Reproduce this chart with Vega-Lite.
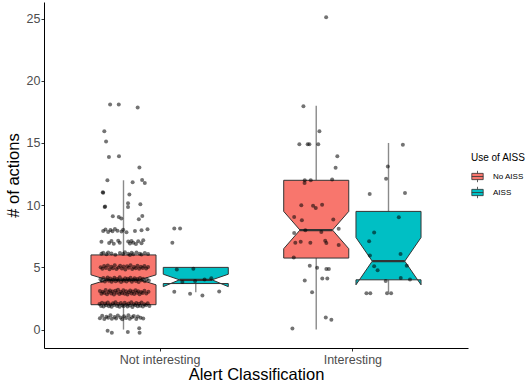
{
  "$schema": "https://vega.github.io/schema/vega-lite/v6.json",
  "width": 424,
  "height": 346,
  "autosize": {"type": "none"},
  "padding": {"left": 44, "top": 2, "right": 63, "bottom": 36},
  "background": "white",
  "config": {
    "font": "Liberation Sans",
    "view": {"stroke": null},
    "axis": {
      "grid": false,
      "domainColor": "#000000",
      "domainWidth": 1,
      "tickColor": "#333333",
      "tickSize": 3,
      "labelColor": "#4D4D4D",
      "labelFontSize": 12.5,
      "titleColor": "#000000",
      "titleFontSize": 16.5,
      "titleFontWeight": "normal"
    }
  },
  "datasets": {
    "boxes": [
      {"cls": "Not interesting", "aiss": "No AISS", "lower": 0, "q1": 2, "nlo": 3.6, "med": 4, "nhi": 4.4, "q3": 6, "upper": 12},
      {"cls": "Not interesting", "aiss": "AISS", "lower": 3, "q1": 3.7, "nlo": 3.45, "med": 4, "nhi": 4.45, "q3": 5, "upper": 5},
      {"cls": "Interesting", "aiss": "No AISS", "lower": 0, "q1": 5.75, "nlo": 6.5, "med": 8, "nhi": 9.5, "q3": 12, "upper": 18},
      {"cls": "Interesting", "aiss": "AISS", "lower": 3, "q1": 4, "nlo": 3.6, "med": 5.5, "nhi": 7.4, "q3": 9.5, "upper": 15}
    ],
    "pts": [
      {"x": 0.730, "y": -0.1}, {"x": 0.752, "y": -0.25}, {"x": 0.835, "y": -0.2}, {"x": 0.894, "y": 0.1}, {"x": 0.896, "y": -0.25},
      {"x": 0.690, "y": 0.92}, {"x": 0.702, "y": 1.12}, {"x": 0.713, "y": 0.85}, {"x": 0.724, "y": 1.04}, {"x": 0.733, "y": 0.95}, {"x": 0.745, "y": 1.15}, {"x": 0.752, "y": 0.88}, {"x": 0.766, "y": 1.02}, {"x": 0.774, "y": 0.9}, {"x": 0.783, "y": 1.13}, {"x": 0.797, "y": 0.97}, {"x": 0.806, "y": 0.84}, {"x": 0.815, "y": 1.08}, {"x": 0.826, "y": 0.93}, {"x": 0.838, "y": 1.16}, {"x": 0.845, "y": 0.87}, {"x": 0.857, "y": 1.0}, {"x": 0.866, "y": 1.1}, {"x": 0.879, "y": 0.86}, {"x": 0.887, "y": 1.05}, {"x": 0.901, "y": 0.95}, {"x": 0.915, "y": 0.9},
      {"x": 0.688, "y": 2.05}, {"x": 0.696, "y": 1.9}, {"x": 0.701, "y": 2.15}, {"x": 0.709, "y": 1.85}, {"x": 0.717, "y": 2.1}, {"x": 0.722, "y": 1.95}, {"x": 0.731, "y": 2.18}, {"x": 0.737, "y": 1.88}, {"x": 0.744, "y": 2.02}, {"x": 0.751, "y": 1.83}, {"x": 0.758, "y": 2.12}, {"x": 0.764, "y": 1.97}, {"x": 0.771, "y": 2.2}, {"x": 0.779, "y": 1.9}, {"x": 0.785, "y": 2.05}, {"x": 0.792, "y": 1.84}, {"x": 0.799, "y": 2.14}, {"x": 0.806, "y": 1.98}, {"x": 0.812, "y": 1.87}, {"x": 0.819, "y": 2.16}, {"x": 0.826, "y": 2.0}, {"x": 0.833, "y": 1.86}, {"x": 0.839, "y": 2.1}, {"x": 0.846, "y": 1.93}, {"x": 0.853, "y": 2.19}, {"x": 0.859, "y": 1.82}, {"x": 0.866, "y": 2.04}, {"x": 0.873, "y": 1.95}, {"x": 0.879, "y": 2.13}, {"x": 0.886, "y": 1.88}, {"x": 0.893, "y": 2.07}, {"x": 0.899, "y": 1.92}, {"x": 0.906, "y": 2.17}, {"x": 0.913, "y": 1.86}, {"x": 0.921, "y": 2.03}, {"x": 0.929, "y": 1.96}, {"x": 0.938, "y": 2.11}, {"x": 0.947, "y": 1.9},
      {"x": 0.690, "y": 3.1}, {"x": 0.698, "y": 2.88}, {"x": 0.705, "y": 3.05}, {"x": 0.713, "y": 2.95}, {"x": 0.720, "y": 3.18}, {"x": 0.727, "y": 2.84}, {"x": 0.735, "y": 3.02}, {"x": 0.742, "y": 3.15}, {"x": 0.749, "y": 2.9}, {"x": 0.756, "y": 3.07}, {"x": 0.763, "y": 2.83}, {"x": 0.770, "y": 3.12}, {"x": 0.777, "y": 2.97}, {"x": 0.784, "y": 3.2}, {"x": 0.791, "y": 2.86}, {"x": 0.798, "y": 3.04}, {"x": 0.805, "y": 2.93}, {"x": 0.812, "y": 3.16}, {"x": 0.819, "y": 2.89}, {"x": 0.826, "y": 3.08}, {"x": 0.833, "y": 2.82}, {"x": 0.840, "y": 3.0}, {"x": 0.847, "y": 3.14}, {"x": 0.854, "y": 2.91}, {"x": 0.861, "y": 3.06}, {"x": 0.868, "y": 2.87}, {"x": 0.875, "y": 3.17}, {"x": 0.882, "y": 2.96}, {"x": 0.889, "y": 3.09}, {"x": 0.896, "y": 2.85}, {"x": 0.904, "y": 3.03}, {"x": 0.912, "y": 2.94}, {"x": 0.921, "y": 3.13}, {"x": 0.931, "y": 2.9}, {"x": 0.942, "y": 3.05},
      {"x": 0.693, "y": 4.05}, {"x": 0.700, "y": 3.9}, {"x": 0.708, "y": 4.15}, {"x": 0.716, "y": 3.86}, {"x": 0.723, "y": 4.02}, {"x": 0.730, "y": 4.18}, {"x": 0.737, "y": 3.93}, {"x": 0.744, "y": 4.1}, {"x": 0.751, "y": 3.84}, {"x": 0.758, "y": 4.0}, {"x": 0.765, "y": 4.16}, {"x": 0.772, "y": 3.88}, {"x": 0.779, "y": 4.07}, {"x": 0.786, "y": 3.95}, {"x": 0.793, "y": 4.2}, {"x": 0.800, "y": 3.83}, {"x": 0.807, "y": 4.03}, {"x": 0.814, "y": 3.92}, {"x": 0.821, "y": 4.13}, {"x": 0.828, "y": 3.87}, {"x": 0.835, "y": 4.08}, {"x": 0.842, "y": 3.97}, {"x": 0.849, "y": 4.17}, {"x": 0.856, "y": 3.85}, {"x": 0.863, "y": 4.01}, {"x": 0.870, "y": 4.12}, {"x": 0.877, "y": 3.9}, {"x": 0.884, "y": 4.06}, {"x": 0.891, "y": 3.82}, {"x": 0.898, "y": 4.14}, {"x": 0.906, "y": 3.96}, {"x": 0.914, "y": 4.09}, {"x": 0.923, "y": 3.89}, {"x": 0.933, "y": 4.04}, {"x": 0.944, "y": 3.94},
      {"x": 0.694, "y": 5.02}, {"x": 0.703, "y": 4.88}, {"x": 0.712, "y": 5.12}, {"x": 0.721, "y": 4.95}, {"x": 0.731, "y": 5.15}, {"x": 0.740, "y": 4.85}, {"x": 0.749, "y": 5.05}, {"x": 0.758, "y": 4.92}, {"x": 0.767, "y": 5.17}, {"x": 0.776, "y": 4.87}, {"x": 0.786, "y": 5.0}, {"x": 0.795, "y": 5.13}, {"x": 0.804, "y": 4.9}, {"x": 0.813, "y": 5.08}, {"x": 0.822, "y": 4.83}, {"x": 0.831, "y": 5.1}, {"x": 0.840, "y": 4.97}, {"x": 0.849, "y": 5.18}, {"x": 0.858, "y": 4.86}, {"x": 0.867, "y": 5.04}, {"x": 0.876, "y": 4.94}, {"x": 0.885, "y": 5.14}, {"x": 0.894, "y": 4.89}, {"x": 0.903, "y": 5.06}, {"x": 0.912, "y": 4.96}, {"x": 0.921, "y": 5.11}, {"x": 0.930, "y": 4.9}, {"x": 0.940, "y": 5.03},
      {"x": 0.698, "y": 6.1}, {"x": 0.707, "y": 6.18}, {"x": 0.724, "y": 6.05}, {"x": 0.733, "y": 6.2}, {"x": 0.750, "y": 6.12}, {"x": 0.770, "y": 6.02}, {"x": 0.794, "y": 6.15}, {"x": 0.811, "y": 6.08}, {"x": 0.820, "y": 6.22}, {"x": 0.837, "y": 6.1}, {"x": 0.846, "y": 6.0}, {"x": 0.855, "y": 6.17}, {"x": 0.863, "y": 6.06}, {"x": 0.880, "y": 6.2}, {"x": 0.897, "y": 6.1}, {"x": 0.906, "y": 6.03}, {"x": 0.923, "y": 6.16}, {"x": 0.940, "y": 6.08},
      {"x": 0.698, "y": 7.05}, {"x": 0.738, "y": 6.96}, {"x": 0.750, "y": 7.12}, {"x": 0.762, "y": 6.9}, {"x": 0.785, "y": 7.15}, {"x": 0.793, "y": 6.98}, {"x": 0.837, "y": 7.08}, {"x": 0.846, "y": 6.92}, {"x": 0.854, "y": 7.13}, {"x": 0.863, "y": 6.97}, {"x": 0.877, "y": 6.88}, {"x": 0.889, "y": 7.1}, {"x": 0.906, "y": 6.94}, {"x": 0.915, "y": 7.18},
      {"x": 0.707, "y": 7.92}, {"x": 0.719, "y": 8.05}, {"x": 0.733, "y": 7.85}, {"x": 0.745, "y": 8.0}, {"x": 0.755, "y": 7.9}, {"x": 0.768, "y": 8.08}, {"x": 0.781, "y": 7.95}, {"x": 0.802, "y": 7.88}, {"x": 0.811, "y": 8.03}, {"x": 0.828, "y": 7.83}, {"x": 0.872, "y": 7.93}, {"x": 0.906, "y": 7.98}, {"x": 0.937, "y": 8.06},
      {"x": 0.757, "y": 9.11}, {"x": 0.788, "y": 9.05}, {"x": 0.801, "y": 8.92}, {"x": 0.892, "y": 8.87}, {"x": 0.910, "y": 9.13},
      {"x": 0.715, "y": 9.86}, {"x": 0.717, "y": 9.9}, {"x": 0.836, "y": 10.15}, {"x": 0.836, "y": 9.86}, {"x": 0.900, "y": 10.07},
      {"x": 0.705, "y": 11.04}, {"x": 0.707, "y": 11.0}, {"x": 0.843, "y": 10.85},
      {"x": 0.729, "y": 12.0}, {"x": 0.860, "y": 11.84}, {"x": 0.909, "y": 12.03}, {"x": 0.923, "y": 11.78},
      {"x": 0.737, "y": 13.87}, {"x": 0.789, "y": 13.93}, {"x": 0.895, "y": 13.02},
      {"x": 0.722, "y": 15.11}, {"x": 0.713, "y": 15.94},
      {"x": 0.743, "y": 18.1}, {"x": 0.788, "y": 18.1}, {"x": 0.886, "y": 17.85},
      {"x": 1.076, "y": 8.12}, {"x": 1.106, "y": 8.12}, {"x": 1.066, "y": 6.98}, {"x": 1.089, "y": 4.82}, {"x": 1.175, "y": 4.89}, {"x": 1.118, "y": 3.83}, {"x": 1.184, "y": 3.91}, {"x": 1.233, "y": 4.02}, {"x": 1.268, "y": 4.12}, {"x": 1.076, "y": 3.05}, {"x": 1.158, "y": 2.88}, {"x": 1.222, "y": 2.73}, {"x": 1.309, "y": 3.06},
      {"x": 1.864, "y": 25.1}, {"x": 1.746, "y": 17.95}, {"x": 1.829, "y": 15.94}, {"x": 1.725, "y": 14.9}, {"x": 1.768, "y": 14.9}, {"x": 1.777, "y": 14.9}, {"x": 1.823, "y": 14.9}, {"x": 1.922, "y": 13.93}, {"x": 1.913, "y": 13.0}, {"x": 1.753, "y": 12.0}, {"x": 1.752, "y": 11.78}, {"x": 1.784, "y": 12.0}, {"x": 1.895, "y": 12.07}, {"x": 1.735, "y": 9.99}, {"x": 1.796, "y": 9.95}, {"x": 1.810, "y": 9.78}, {"x": 1.843, "y": 10.03}, {"x": 1.698, "y": 9.05}, {"x": 1.738, "y": 8.79}, {"x": 1.901, "y": 8.85}, {"x": 1.698, "y": 7.77}, {"x": 1.756, "y": 7.98}, {"x": 1.839, "y": 7.84}, {"x": 1.929, "y": 8.1}, {"x": 1.704, "y": 6.98}, {"x": 1.732, "y": 7.06}, {"x": 1.782, "y": 6.98}, {"x": 1.859, "y": 7.14}, {"x": 1.865, "y": 6.96}, {"x": 1.929, "y": 6.79}, {"x": 1.696, "y": 5.79}, {"x": 1.779, "y": 5.14}, {"x": 1.817, "y": 4.97}, {"x": 1.865, "y": 4.86}, {"x": 1.878, "y": 4.86}, {"x": 1.753, "y": 3.94}, {"x": 1.844, "y": 4.1}, {"x": 1.870, "y": 4.1}, {"x": 1.791, "y": 3.0}, {"x": 1.862, "y": 0.97}, {"x": 1.891, "y": 0.8}, {"x": 1.689, "y": 0.08},
      {"x": 2.262, "y": 14.86}, {"x": 2.184, "y": 13.11}, {"x": 2.175, "y": 12.12}, {"x": 2.090, "y": 10.89}, {"x": 2.273, "y": 10.98}, {"x": 2.241, "y": 9.03}, {"x": 2.113, "y": 7.81}, {"x": 2.087, "y": 7.1}, {"x": 2.091, "y": 5.96}, {"x": 2.250, "y": 6.07}, {"x": 2.113, "y": 5.09}, {"x": 2.131, "y": 4.77}, {"x": 2.282, "y": 5.13}, {"x": 2.173, "y": 3.9}, {"x": 2.251, "y": 4.14}, {"x": 2.299, "y": 4.03}, {"x": 2.073, "y": 2.92}, {"x": 2.093, "y": 2.93}, {"x": 2.180, "y": 2.92}, {"x": 2.201, "y": 2.92}
    ]
  },
  "layer": [
    {
      "data": {"name": "boxes"},
      "transform": [
        {"calculate": "(datum.cls == 'Not interesting' ? 1 : 2) + (datum.aiss == 'No AISS' ? -0.1875 : 0.1875)", "as": "c"}
      ],
      "mark": {"type": "rule", "color": "#8a8a8a", "strokeWidth": 1.4},
      "encoding": {
        "x": {"field": "c", "type": "quantitative", "scale": {"domain": [0.4, 2.6], "nice": false, "zero": false},
              "axis": {"values": [1, 2], "labelExpr": "datum.value == 1 ? 'Not interesting' : 'Interesting'", "labelPadding": 2, "titlePadding": 1}, "title": "Alert Classification"},
        "y": {"field": "lower", "type": "quantitative", "scale": {"domain": [-1.48, 26.33], "nice": false, "zero": false},
              "axis": {"values": [0, 5, 10, 15, 20, 25], "labelPadding": 1, "titlePadding": 5}, "title": "# of actions"},
        "y2": {"field": "q1"}
      }
    },
    {
      "data": {"name": "boxes"},
      "transform": [
        {"calculate": "(datum.cls == 'Not interesting' ? 1 : 2) + (datum.aiss == 'No AISS' ? -0.1875 : 0.1875)", "as": "c"}
      ],
      "mark": {"type": "rule", "color": "#8a8a8a", "strokeWidth": 1.4},
      "encoding": {
        "x": {"field": "c", "type": "quantitative", "title": "Alert Classification"},
        "y": {"field": "q3", "type": "quantitative", "title": "# of actions"},
        "y2": {"field": "upper"}
      }
    },
    {
      "data": {"name": "boxes"},
      "transform": [
        {"calculate": "(datum.cls == 'Not interesting' ? 1 : 2) + (datum.aiss == 'No AISS' ? -0.1875 : 0.1875)", "as": "c"},
        {"calculate": "datum.c - 0.16875", "as": "L"},
        {"calculate": "datum.c + 0.16875", "as": "R"},
        {"fold": ["L", "R"], "as": ["side", "xe"]},
        {"fold": ["q3", "nhi", "med", "nlo", "q1"], "as": ["stat", "yv"]},
        {"calculate": "datum.side == 'L' ? indexof(['q3','nhi','med','nlo','q1'], datum.stat) : 9 - indexof(['q3','nhi','med','nlo','q1'], datum.stat)", "as": "ord"},
        {"calculate": "datum.xe + (datum.stat == 'med' ? (datum.side == 'L' ? 0.084375 : -0.084375) : 0)", "as": "xv"}
      ],
      "mark": {"type": "line", "filled": true, "stroke": "#333333", "strokeWidth": 1, "strokeJoin": "miter"},
      "encoding": {
        "x": {"field": "xv", "type": "quantitative", "title": "Alert Classification"},
        "y": {"field": "yv", "type": "quantitative", "title": "# of actions"},
        "order": {"field": "ord", "type": "quantitative"},
        "detail": {"field": "cls"},
        "fill": {"field": "aiss", "type": "nominal", "title": "Use of AISS",
                 "scale": {"domain": ["No AISS", "AISS"], "range": ["#F8766D", "#00BFC4"]},
                 "legend": {"orient": "none", "legendX": 427, "legendY": 151, "titleFontSize": 10, "titleFontWeight": "normal", "titleColor": "#000000", "titlePadding": 7,
                            "labelFontSize": 8, "labelColor": "#000000", "labelOffset": 9,
                            "symbolType": "M-1,-0.55H1V0.55H-1Z M0,-1V-0.55 M0,0.55V1 M-1,0H1", "symbolSize": 130, "symbolStrokeColor": "#333333", "symbolStrokeWidth": 0.8, "symbolOpacity": 1, "rowPadding": 1, "offset": 0, "padding": 0}}
      }
    },
    {
      "data": {"name": "boxes"},
      "transform": [
        {"calculate": "(datum.cls == 'Not interesting' ? 1 : 2) + (datum.aiss == 'No AISS' ? -0.1875 : 0.1875)", "as": "c"},
        {"calculate": "datum.c - 0.16875", "as": "L"},
        {"calculate": "datum.c + 0.16875", "as": "R"}
      ],
      "mark": {"type": "rule", "color": "#333333", "strokeWidth": 1},
      "encoding": {
        "x": {"field": "L", "type": "quantitative", "title": "Alert Classification"},
        "x2": {"field": "R"},
        "y": {"field": "q3", "type": "quantitative", "title": "# of actions"}
      }
    },
    {
      "data": {"name": "boxes"},
      "transform": [
        {"calculate": "(datum.cls == 'Not interesting' ? 1 : 2) + (datum.aiss == 'No AISS' ? -0.1875 : 0.1875)", "as": "c"},
        {"calculate": "datum.c - 0.084375", "as": "ml"},
        {"calculate": "datum.c + 0.084375", "as": "mr"}
      ],
      "mark": {"type": "rule", "color": "#333333", "strokeWidth": 2.2},
      "encoding": {
        "x": {"field": "ml", "type": "quantitative", "title": "Alert Classification"},
        "x2": {"field": "mr"},
        "y": {"field": "med", "type": "quantitative", "title": "# of actions"}
      }
    },
    {
      "data": {"name": "pts"},
      "mark": {"type": "circle", "size": 16, "color": "#000000", "opacity": 0.55},
      "encoding": {
        "x": {"field": "x", "type": "quantitative", "title": "Alert Classification"},
        "y": {"field": "y", "type": "quantitative", "title": "# of actions"}
      }
    }
  ]
}
